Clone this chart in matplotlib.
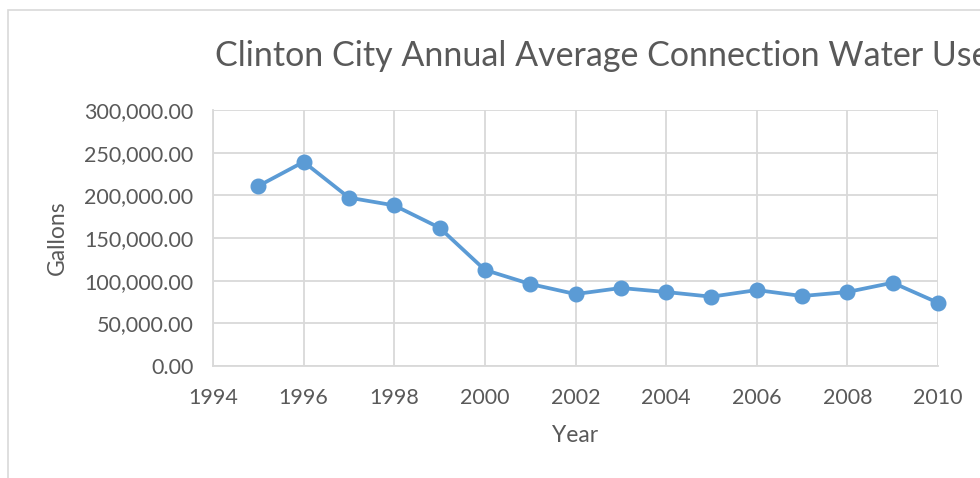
import matplotlib.pyplot as plt
from matplotlib.patches import Rectangle
from matplotlib.ticker import FuncFormatter

years = [1995, 1996, 1997, 1998, 1999, 2000, 2001, 2002,
         2003, 2004, 2005, 2006, 2007, 2008, 2009, 2010]
gallons = [210900, 239200, 197300, 188200, 162000, 112600, 96100, 84300,
           91400, 86700, 81200, 89000, 82000, 86700, 97600, 74100]
x_ticks = list(range(1994, 2011, 2))
y_ticks = list(range(0, 300001, 50000))

TEXT = "#595959"
GRID = "#d9d9d9"
BLUE = "#5b9bd5"

plt.rcParams['font.family'] = ['Lato', 'DejaVu Sans']

fig = plt.figure(figsize=(9.8, 4.78), dpi=100)
# chart frame (cropped on right / bottom)
fig.patches.append(Rectangle((8 / 980, -0.2), 1.2, 1.2 - 10 / 478,
                             transform=fig.transFigure, fill=False,
                             edgecolor=GRID, linewidth=1.2))

ax = fig.add_axes([213 / 980, (478 - 366) / 478, (938 - 213) / 980, (366 - 110) / 478])
ax.plot(years, gallons, color=BLUE, linewidth=2.7, marker='o', markersize=10.5,
        clip_on=False, zorder=3)

ax.set_xlim(1994, 2010)
ax.set_ylim(0, 300000)
ax.set_xticks(x_ticks)
ax.set_yticks(y_ticks)
ax.yaxis.set_major_formatter(FuncFormatter(lambda v, p: f"{v:,.2f}"))
ax.grid(True, color=GRID, linewidth=1.3)
ax.set_axisbelow(True)
for s in ["top", "right"]:
    ax.spines[s].set_visible(False)
for s in ["left", "bottom"]:
    ax.spines[s].set_color(GRID)
    ax.spines[s].set_linewidth(1.3)
ax.tick_params(length=0, labelsize=15.5, labelcolor=TEXT)
ax.tick_params(axis='x', pad=16)
ax.tick_params(axis='y', pad=14)

ax.set_xlabel("Year", fontsize=16.5, color=TEXT, labelpad=12)
ax.set_ylabel("Gallons", fontsize=16.5, color=TEXT, labelpad=12)

fig.text(215 / 980, 1 - 56 / 478, "Clinton City Annual Average Connection Water Use",
         fontsize=24.5, color=TEXT, ha='left', va='center')

fig.savefig("out.png", dpi=100)
